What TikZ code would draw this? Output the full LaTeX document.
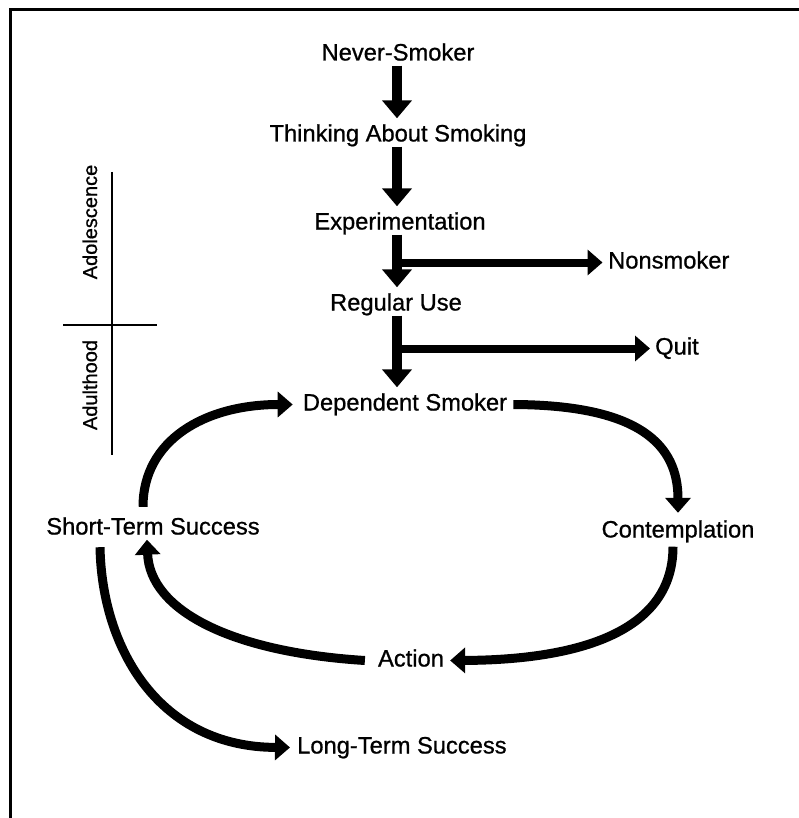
\documentclass[tikz,border=0pt]{standalone}
\usepackage{fontspec}
\setmainfont{Liberation Sans}[FakeBold=0.8]
\usetikzlibrary{arrows.meta,calc}
\begin{document}
\begin{tikzpicture}[x=1pt,y=-1pt,
  lbl/.style={font=\fontsize{23.7}{28}\selectfont, inner sep=0pt, text height=17pt, text depth=5pt, anchor=base},
  side/.style={font=\fontsize{20}{24}\selectfont, inner sep=0pt, rotate=90, anchor=base},
  varrow/.style={line width=10pt, -{Triangle[width=29pt,length=18pt]}, shorten >=6pt},
  harrow/.style={line width=8pt, -{Triangle[width=25pt,length=15pt]}},
  carrow/.style={line width=9pt, -{Triangle[width=25pt,length=15pt]}},
  rule/.style={line width=1.3pt},
  frame/.style={line width=3pt, line join=miter}]
\useasboundingbox (0,0) rectangle (799,818);
\draw[frame] (799,10) -- (10,10) -- (10,818);

\node[lbl] (never) at (398,60.5) {Never-Smoker};
\node[lbl] (think) at (398,141.5) {Thinking About Smoking};
\node[lbl] (exp) at (400,229.5) {Experimentation};
\node[lbl,anchor=base west] (nons) at (608,268.5) {Nonsmoker};
\node[lbl] (reg) at (396,310.5) {Regular Use};
\node[lbl,anchor=base west] (quit) at (655,354.5) {Quit};
\node[lbl] (dep) at (405,410.5) {Dependent Smoker};
\node[lbl] (cont) at (678,537.5) {Contemplation};
\node[lbl] (action) at (411,666.5) {Action};
\node[lbl] (sts) at (153,534.5) {Short-Term Success};
\node[lbl,anchor=base west] (lts) at (297,753.5) {Long-Term Success};

\node[side] (adol) at (97,222) {Adolescence};
\node[side] (adult) at (97,385) {Adulthood};
\coordinate (vtop) at (112,172);
\coordinate (vbot) at (112,455);
\coordinate (hl) at (63,325);
\coordinate (hr) at (157,325);
\draw[rule] (vtop) -- (vbot);
\draw[rule] (hl) -- (hr);

\coordinate (spine) at (397,0);
\draw[varrow] (never.south -| spine) -- (think.north -| spine);
\draw[varrow] (think.south -| spine) -- (exp.north -| spine);
\draw[varrow] (exp.south -| spine) -- (reg.north -| spine);
\draw[varrow] (reg.south -| spine) -- (dep.north -| spine);

\draw[harrow, shorten >=5.5pt] (nons.west -| spine) -- (nons.west);
\draw[harrow, shorten >=5pt] (quit.west -| spine) -- (quit.west);

\draw[carrow, shorten >=10pt] ([xshift=-10pt,yshift=10.5pt]sts.north) .. controls (143,440) and (205,404.5) .. (dep.west);
\draw[carrow, shorten >=7.5pt] ([xshift=6pt]dep.east) .. controls (640,405) and (678,445) .. (cont.north);
\draw[carrow] ([xshift=-5pt,yshift=-4pt]cont.south) .. controls (673,640) and (560,660) .. ([xshift=6pt]action.east);
\draw[carrow] ([xshift=-13pt]action.west) .. controls (230,652) and (150,610) .. ([xshift=-6pt]sts.south);
\draw[carrow, shorten >=7pt] ([xshift=-53pt,yshift=-7.5pt]sts.south) .. controls (102,650) and (160,747) .. (lts.west);
\end{tikzpicture}
\end{document}
